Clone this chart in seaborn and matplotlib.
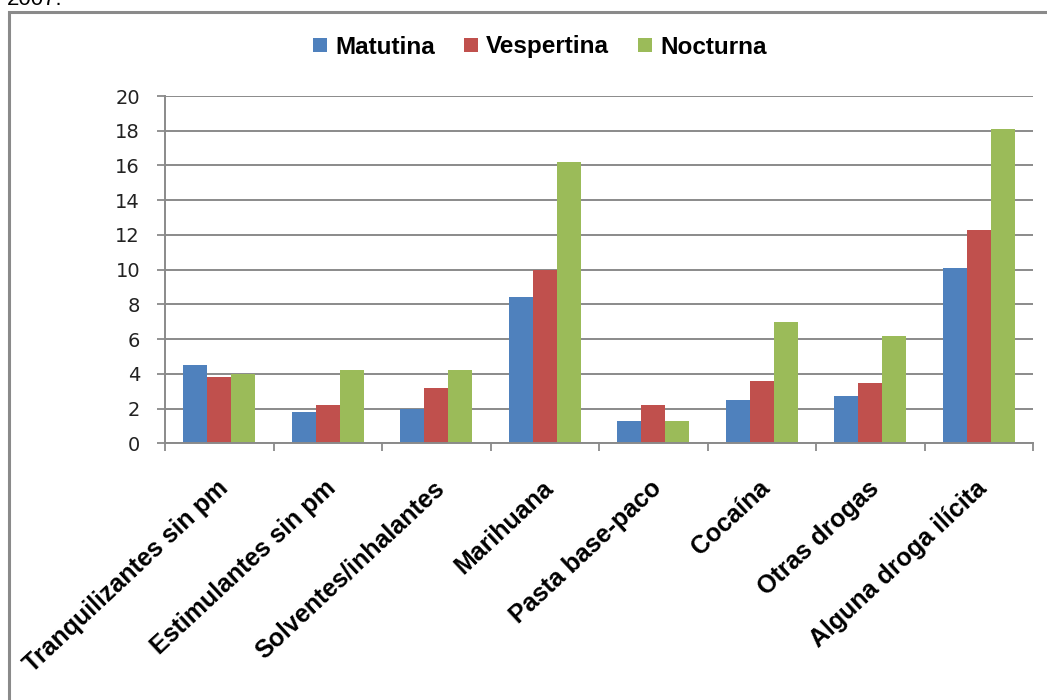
import matplotlib
matplotlib.use("Agg")
import matplotlib.pyplot as plt
import matplotlib.transforms as mtransforms
from matplotlib.patches import Rectangle
import seaborn as sns
import pandas as pd

categories = ["Tranquilizantes sin pm", "Estimulantes sin pm", "Solventes/inhalantes",
              "Marihuana", "Pasta base-paco", "Cocaína", "Otras drogas", "Alguna droga ilícita"]
matutina = [4.5, 1.8, 2.0, 8.4, 1.3, 2.5, 2.7, 10.1]
vespertina = [3.8, 2.2, 3.2, 10.0, 2.2, 3.6, 3.5, 12.3]
nocturna = [4.0, 4.2, 4.2, 16.2, 1.3, 7.0, 6.2, 18.1]
series_names = ["Matutina", "Vespertina", "Nocturna"]
colors = ["#4F81BD", "#C0504D", "#9BBB59"]
yticks = [0, 2, 4, 6, 8, 10, 12, 14, 16, 18, 20]

rows = []
for name, vals in zip(series_names, [matutina, vespertina, nocturna]):
    for c, v in zip(categories, vals):
        rows.append({"cat": c, "serie": name, "valor": v})
df = pd.DataFrame(rows)

sns.set_theme(style="white")
plt.rcParams["font.family"] = ["Liberation Sans", "DejaVu Sans"]

fig = plt.figure(figsize=(10.47, 7.0), dpi=100)
ax = fig.add_axes([165/1047, 1-443.3/700, (1033-165)/1047, (443.3-96)/700])

sns.barplot(data=df, x="cat", y="valor", hue="serie", order=categories,
            hue_order=series_names, palette=colors, width=0.66, gap=0,
            linewidth=0, saturation=1, ax=ax, legend=True)

grid_c = "#8A8A8A"
ax.set_ylim(0, 20)
ax.set_xlim(-0.5, len(categories)-0.5)
ax.set_yticks(yticks)
ax.set_yticklabels([str(t) for t in yticks], fontsize=14, family="DejaVu Sans", color="#222222")
ax.yaxis.grid(True, color=grid_c, linewidth=1.4)
ax.set_axisbelow(True)
for s in ["top", "right"]:
    ax.spines[s].set_visible(False)
for s in ["left", "bottom"]:
    ax.spines[s].set_color(grid_c)
    ax.spines[s].set_linewidth(1.4)
ax.tick_params(axis="y", which="major", length=6, width=1.3, color=grid_c, left=True, pad=12)
ax.set_xlabel("")
ax.set_ylabel("")

# x ticks at category boundaries
ax.set_xticks([i - 0.5 for i in range(len(categories)+1)], minor=True)
ax.tick_params(axis="x", which="minor", length=6, width=1.3, color=grid_c, bottom=True, direction="out")
ax.tick_params(axis="x", which="major", length=0, pad=30)
ax.set_xticks(range(len(categories)))
ax.set_xticklabels(categories, rotation=43, ha="right", va="center",
                   rotation_mode="anchor", fontsize=18, fontweight="bold", color="black")
offset = mtransforms.ScaledTranslation(5/100, 0, fig.dpi_scale_trans)
for lab in ax.get_xticklabels():
    lab.set_transform(lab.get_transform() + offset)

leg = ax.legend(loc="center", bbox_to_anchor=(540/1047, 1-47/700), bbox_transform=fig.transFigure,
                ncol=3, frameon=False, handlelength=0.55, handleheight=0.55, handletextpad=0.35,
                columnspacing=1.2, prop={"weight": "bold", "size": 17.5})
for t in leg.get_texts():
    t.set_color("black")

# outer frame
fig.patches.append(Rectangle((8.5/1047, -0.2), 1.5, 1-11.5/700+0.2, transform=fig.transFigure,
                             fill=False, edgecolor="#8A8A8A", linewidth=2.2))
fig.text(7/1047, 1-5/700, "2007.", fontsize=16, va="baseline", ha="left", color="black")

fig.savefig("out.png", dpi=100)
